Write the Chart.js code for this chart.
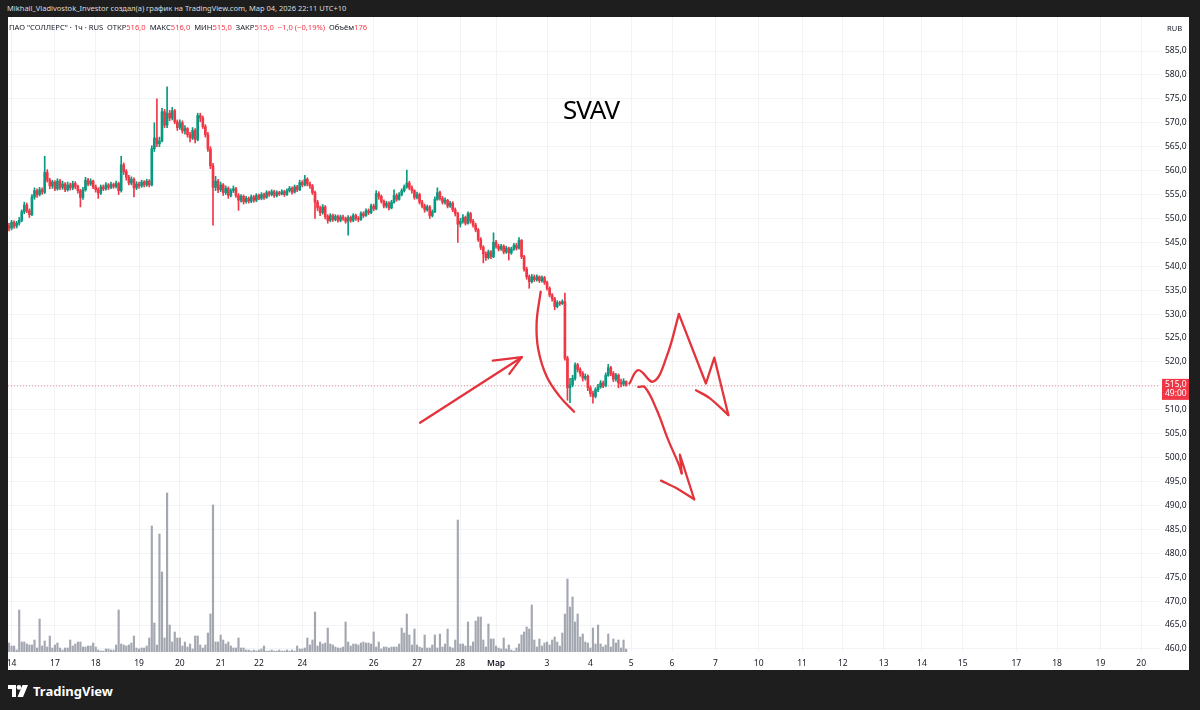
<!DOCTYPE html>
<html>
<head>
<meta charset="utf-8">
<title>SVAV</title>
<script src="https://cdn.jsdelivr.net/npm/chart.js@4.4.1/dist/chart.umd.min.js"></script>
<style>
  html, body { margin: 0; padding: 0; }
  body { width: 1200px; height: 710px; background: #1e1e1e; position: relative; overflow: hidden;
         font-family: "Noto Sans", "DejaVu Sans", sans-serif; }
  #top { position: absolute; left: 7px; top: 3px; font-size: 7.5px; color: #dcdcdc; white-space: nowrap; }
  #pane { position: absolute; left: 8px; top: 17px; width: 1181px; height: 653px; background: #fff; }
  #chart { position: absolute; left: 0; top: 0; }
  #legend { position: absolute; left: 1px; top: 5px; font-size: 7.6px; color: #131722; white-space: pre; }
  #legend .v { color: #f23645; }
  #sym { position: absolute; left: 555px; top: 79px; font-size: 26px; line-height: 26px; letter-spacing: -1px; color: #000; }
  #rub { position: absolute; left: 1159px; top: 6px; font-size: 7.5px; color: #131722; }
  #logo { position: absolute; left: 8px; top: 682px; display: flex; align-items: center; gap: 5px;
          color: #fff; font-weight: 700; font-size: 13px; }
</style>
</head>
<body>
<div id="top">Mikhail_Vladivostok_Investor создал(а) график на TradingView.com, Мар 04, 2026 22:11 UTC+10</div>
<div id="pane">
  <canvas id="chart" width="1181" height="653"></canvas>
  <div id="legend">ПАО "СОЛЛЕРС" · 1ч · RUS  ОТКР<span class="v">516,0</span>  МАКС<span class="v">516,0</span>  МИН<span class="v">515,0</span>  ЗАКР<span class="v">515,0</span>  <span class="v">−1,0 (−0,19%)</span>  Объём<span class="v">176</span></div>
  <div id="sym">SVAV</div>
  <div id="rub">RUB</div>
</div>
<div id="logo">
  <svg width="20" height="12" viewBox="0 0 20 12"><path fill="#fff" d="M0 0h8v12H4V4H0z"/><circle fill="#fff" cx="11" cy="2.4" r="2.3"/><path fill="#fff" d="M14.5 0h5.5l-5 12H9.5z"/></svg>
  <span>TradingView</span>
</div>
<script>
// ---------- DATA (1h candles, SVAV) ----------
const firstOpen = 548.5;

const closes = [
  548.0, 549.2, 548.4, 549.0, 549.6, 551.4, 552.8, 551.6, 550.8, 554.5,
  555.8, 555.0, 556.0, 555.5, 559.6, 558.0, 556.8, 557.6, 556.2, 557.8,
  556.5, 557.2, 556.0, 557.0, 556.4, 557.3, 556.7, 555.8, 554.4, 556.0,
  558.0, 557.2, 557.8, 556.6, 556.0, 555.3, 556.6, 556.2, 557.0, 556.5,
  557.1, 556.7, 557.3, 555.8, 561.2, 559.8, 558.6, 557.4, 558.2, 556.4,
  557.2, 556.8, 557.6, 557.0, 557.8, 557.0, 564.6, 566.8, 565.6, 566.2,
  572.3, 569.5, 572.0, 571.0, 572.5, 570.2, 569.0, 570.0, 568.3, 568.8,
  567.5, 566.8, 568.4, 566.5, 571.5, 571.0, 569.2, 567.5, 564.5, 561.0,
  556.5, 557.8, 556.0, 557.0, 555.4, 556.3, 554.8, 555.8, 556.2, 554.8,
  553.8, 554.6, 553.5, 554.2, 553.6, 554.5, 553.8, 554.8, 554.2, 555.0,
  554.4, 555.4, 555.0, 555.6, 554.8, 555.4, 555.1, 555.6, 555.0, 555.8,
  556.3, 555.5, 556.6, 556.0, 557.5, 557.0, 558.2, 557.2, 556.8, 555.4,
  553.4, 552.2, 551.2, 552.4, 550.4, 549.6, 550.6, 549.8, 550.4, 549.6,
  550.3, 550.0, 549.4, 550.2, 549.6, 550.6, 550.0, 549.8, 551.0, 550.6,
  551.6, 551.2, 552.6, 552.0, 555.2, 554.6, 553.6, 552.6, 553.2, 552.2,
  553.4, 554.8, 554.0, 555.0, 555.8, 556.6, 557.4, 556.4, 555.8, 554.4,
  555.0, 553.4, 552.6, 551.8, 552.4, 550.6, 551.4, 554.0, 555.4, 554.2,
  553.4, 553.8, 552.6, 553.2, 551.8, 551.0, 548.8, 549.4, 550.2, 549.0,
  551.0, 549.4, 548.6, 547.6, 545.6, 544.0, 542.6, 541.8, 543.0, 542.0,
  545.0, 544.2, 543.6, 544.2, 543.0, 543.8, 542.8, 543.6, 544.4, 543.8,
  545.4, 542.0, 539.4, 537.8, 536.8, 537.8, 537.2, 537.8, 537.0, 537.6,
  536.6, 535.4, 534.0, 533.2, 531.6, 532.4, 532.2, 532.6, 520.8, 514.6,
  515.2, 516.6, 519.4, 518.4, 517.6, 516.6, 517.0, 514.6, 513.4, 512.8,
  514.2, 514.8, 515.6, 515.0, 517.2, 518.8, 517.6, 516.4, 517.2, 515.6,
  515.4, 516.0, 515.0
];

const highs = [
  549.0, 549.6, 549.5, 549.4, 550.2, 551.8, 553.4, 553.2, 552.0, 555.0,
  556.4, 556.2, 556.5, 556.4, 563.0, 560.2, 558.4, 558.0, 557.9, 558.3,
  558.2, 557.8, 557.5, 557.6, 557.4, 557.8, 557.7, 557.0, 556.1, 556.5,
  558.6, 558.4, 558.3, 558.0, 557.0, 556.4, 557.0, 557.0, 557.5, 557.3,
  557.6, 557.4, 557.8, 557.6, 563.0, 561.6, 560.2, 559.0, 558.7, 558.5,
  557.7, 557.6, 558.0, 557.9, 558.2, 558.1, 565.2, 570.0, 575.0, 567.0,
  573.0, 572.8, 577.5, 572.6, 573.2, 572.8, 570.6, 570.6, 570.4, 569.4,
  569.0, 568.0, 569.0, 568.8, 572.0, 572.0, 571.4, 569.6, 568.0, 565.0,
  561.5, 558.8, 558.2, 557.6, 557.3, 556.8, 556.6, 556.2, 556.8, 556.5,
  555.2, 555.0, 554.9, 554.6, 554.5, 554.9, 554.8, 555.2, 555.1, 555.4,
  555.3, 555.8, 555.7, 556.0, 555.9, 555.8, 555.7, 556.0, 555.9, 556.2,
  556.7, 556.6, 557.0, 556.9, 558.0, 557.9, 559.0, 558.5, 557.6, 557.1,
  555.7, 553.8, 552.6, 552.9, 552.7, 550.8, 551.0, 550.9, 550.8, 550.7,
  550.7, 550.7, 550.3, 550.6, 550.5, 551.0, 550.9, 550.4, 551.4, 551.4,
  552.0, 552.0, 553.0, 553.0, 555.8, 555.6, 554.9, 553.9, 553.6, 553.5,
  553.8, 556.0, 555.2, 555.4, 556.2, 557.0, 560.1, 557.8, 556.8, 556.0,
  555.5, 555.3, 553.8, 553.0, 552.8, 552.7, 551.8, 554.5, 556.4, 555.7,
  554.6, 554.3, 554.0, 553.6, 553.5, 552.2, 551.3, 550.0, 550.8, 550.5,
  551.4, 551.3, 549.8, 549.0, 547.9, 546.0, 544.3, 543.0, 543.4, 543.3,
  547.0, 545.4, 544.6, 544.6, 544.5, 544.2, 544.0, 544.0, 544.8, 544.8,
  546.0, 545.6, 542.3, 539.8, 538.2, 538.3, 538.2, 538.2, 538.0, 538.0,
  537.9, 536.9, 535.7, 534.3, 533.5, 532.8, 532.7, 533.0, 534.4, 521.2,
  516.6, 517.2, 519.8, 519.7, 518.8, 518.0, 517.5, 517.3, 515.0, 513.9,
  514.6, 515.3, 516.1, 516.0, 517.7, 519.5, 519.1, 518.0, 517.6, 517.5,
  516.4, 516.5, 516.0
];

const lows = [
  547.4, 547.6, 547.9, 548.0, 548.6, 549.3, 551.0, 551.2, 550.2, 550.6,
  554.0, 554.4, 554.7, 555.0, 555.2, 557.6, 556.2, 556.3, 555.8, 555.9,
  556.0, 556.1, 555.6, 555.7, 555.9, 556.0, 556.2, 555.3, 552.4, 554.0,
  555.7, 556.8, 556.9, 556.2, 555.5, 554.2, 555.0, 555.8, 555.9, 556.0,
  556.2, 556.3, 556.4, 555.0, 555.5, 559.2, 558.0, 557.0, 557.0, 554.5,
  556.0, 556.3, 556.5, 556.6, 556.7, 556.6, 556.8, 564.0, 565.0, 565.0,
  566.0, 569.0, 569.0, 570.4, 570.6, 569.8, 568.4, 568.6, 567.8, 567.6,
  567.0, 566.0, 566.5, 565.8, 566.2, 570.2, 568.8, 567.0, 564.0, 560.4,
  548.6, 555.8, 555.4, 555.6, 554.8, 555.0, 554.2, 554.5, 555.4, 554.4,
  551.7, 553.4, 553.0, 553.2, 553.2, 553.3, 553.4, 553.5, 553.9, 553.9,
  554.0, 554.2, 554.6, 554.7, 554.4, 554.5, 554.8, 554.9, 554.6, 554.8,
  555.5, 555.1, 555.3, 555.6, 555.8, 556.6, 556.8, 556.8, 556.3, 555.0,
  550.0, 551.6, 550.6, 550.9, 549.9, 549.0, 549.3, 549.4, 549.5, 549.2,
  549.3, 549.6, 549.0, 546.5, 549.2, 549.3, 549.6, 549.3, 549.6, 550.2,
  550.4, 550.8, 551.0, 551.6, 551.8, 554.0, 553.2, 552.2, 552.2, 551.8,
  552.0, 553.2, 553.6, 553.8, 554.7, 555.5, 556.3, 556.0, 555.3, 554.0,
  554.1, 553.0, 552.2, 551.3, 551.5, 550.0, 550.3, 551.2, 553.8, 553.8,
  553.0, 553.0, 552.2, 552.3, 551.4, 550.5, 545.0, 548.2, 549.0, 548.6,
  548.8, 549.0, 548.2, 547.2, 545.2, 543.5, 540.7, 541.2, 541.5, 541.6,
  541.8, 543.8, 543.2, 543.3, 542.6, 542.7, 541.3, 542.5, 543.3, 543.4,
  543.6, 541.6, 539.0, 537.3, 535.4, 536.5, 536.8, 536.9, 536.6, 536.7,
  536.2, 535.0, 533.6, 532.7, 530.9, 531.3, 531.8, 532.0, 520.4, 512.0,
  511.5, 514.8, 516.2, 517.9, 517.0, 516.0, 516.2, 514.0, 512.8, 511.4,
  512.5, 513.8, 514.5, 514.6, 514.8, 517.0, 517.1, 515.9, 516.0, 514.6,
  514.8, 515.0, 515.0
];

const volumes = [
  540, 360, 360, 120,
  2520, 600, 600, 480, 420, 420, 720, 240, 1980,
  360, 660, 300, 960, 240, 420, 540, 240, 120, 240,
  240, 720, 360, 480, 600, 600, 300, 300, 360, 360,
  540, 300, 120, 60, 60, 180, 180, 120, 120, 420,
  2520, 480, 420, 360, 420, 540, 960, 240, 180, 240,
  240, 360, 840, 7560, 1740, 420, 7080, 4800, 840, 9540,
  1620, 600, 1200, 840, 840, 360, 600, 300, 480, 180,
  960, 960, 420, 240, 420, 1140, 2280, 8820, 600, 600,
  1020, 720, 480, 600, 360, 240, 240, 840, 240, 240,
  120, 120, 60, 120, 60, 120, 180, 360, 60,
  60, 120, 60, 60, 120, 60, 60, 120, 60, 120, 60,
  360, 180, 180, 240, 840, 420, 720, 2400, 360, 600, 480, 540, 1440,
  480, 420, 300, 240, 240, 300, 1800, 600, 360,
  480, 480, 420, 540, 600, 540, 540, 480, 1200, 300,
  600, 180, 300, 300, 240, 300, 300, 300, 480, 1440,
  1140, 2280, 1020, 420, 1380, 420, 300, 240, 1020, 240,
  240, 420, 1020, 240, 1080, 300, 480, 1380, 300,
  240, 720, 7920, 480, 480, 360, 1800, 360, 600, 1860,
  2100, 2100, 720, 300, 1680, 780, 780, 360, 240, 180,
  840, 180, 420, 120, 60, 240, 480, 1020, 1200, 1500,
  1380, 2820, 720, 300, 780, 360, 540, 600, 420, 720,
  900, 600, 360, 1140, 2280, 4380, 2700, 3300, 1800, 2280,
  900, 1080, 600, 540, 240, 1440, 480, 1620, 480, 300,
  420, 1080, 300, 780, 540, 720, 240, 720, 176
];

// day labels on the time axis (candle slot where each label sits)
const dayTickIdx    = [1, 18, 34, 51, 67, 83, 98, 115, 143, 160, 177, 191, 211, 228,
                       244, 260, 277, 294, 311, 327, 343, 358, 374, 395, 411, 428, 444];
const dayTickLabels = ['14', '17', '18', '19', '20', '21', '22', '24', '26', '27', '28', 'Мар', '3', '4',
                       '5', '6', '7', '10', '11', '12', '13', '14', '15', '17', '18', '19', '20'];

const priceTicks = [460, 465, 470, 475, 480, 485, 490, 495, 500, 505, 510, 515, 520, 525,
                    530, 535, 540, 545, 550, 555, 560, 565, 570, 575, 580, 585];

const lastClose = 515.0;
const barCountdown = '49:00';

// hand-drawn marks, [slot, price]
const arrowUpLine  = [[161.2, 507.3], [201.1, 521.0]];
const arrowUpHead  = [[189.7, 520.3], [201.1, 521.0], [196.2, 517.5]];
const bendLine     = [[208.5, 534.7], [206.9, 528.1], [207.6, 522.5], [210.9, 516.9], [216.1, 512.7], [221.6, 509.6]];
const zigBump      = [[243.3, 515.5], [246.8, 518.3], [252.7, 515.9], [257.9, 521.1], [262.7, 530.0]];
const zigDown      = [[262.7, 530.0], [273.3, 515.5], [276.6, 520.9], [282.1, 508.9]];
const zigHead      = [[269.4, 514.1], [274.9, 512.4], [282.1, 508.9]];
const dropLine     = [[246.8, 514.8], [249.4, 514.7], [254.0, 510.0], [258.5, 503.7], [262.5, 498.8], [263.8, 496.7]];
const dropTail     = [[263.8, 496.7], [263.1, 500.6], [268.7, 491.3]];
const dropHead     = [[255.7, 495.2], [261.8, 493.6], [268.7, 491.3]];

// ---------- CONFIG ----------
const UP = '#089981';
const DOWN = '#f23645';
const INK = '#e3343c';
const X_MIN = -0.392;
const X_MAX = 451.37;

const opens = closes.map((c, i) => (i === 0 ? firstOpen : closes[i - 1]));
const candleColors = closes.map((c, i) => (c >= opens[i] ? UP : DOWN));

function pts(arr) {
  return arr.map(([x, y]) => ({ x, y }));
}

function ink(arr, tension) {
  return {
    type: 'line',
    data: pts(arr),
    borderColor: INK,
    borderWidth: 2.3,
    tension: tension,
    pointRadius: 0,
    fill: false,
    borderCapStyle: 'round',
    borderJoinStyle: 'round',
    yAxisID: 'y',
    order: 0
  };
}

// red tag on the price scale
const lastPriceTag = {
  id: 'lastPriceTag',
  afterDraw(chart) {
    const { ctx, scales: { y } } = chart;
    const py = y.getPixelForValue(lastClose);
    ctx.save();
    ctx.fillStyle = DOWN;
    ctx.fillRect(y.left + 2, py - 7, y.right - y.left - 2, 21);
    ctx.fillStyle = '#fff';
    ctx.font = '8.5px "Noto Sans"';
    ctx.textBaseline = 'middle';
    ctx.fillText(lastClose.toFixed(1).replace('.', ','), y.left + 5, py - 1);
    ctx.fillText(barCountdown, y.left + 5, py + 8);
    ctx.restore();
  }
};

const tickFont = { family: '"Noto Sans"', size: 8.5 };

new Chart(document.getElementById('chart'), {
  type: 'bar',
  data: {
    datasets: [
      ink(arrowUpLine, 0), ink(arrowUpHead, 0), ink(bendLine, 0.4),
      ink(zigBump, 0.4), ink(zigDown, 0), ink(zigHead, 0.3),
      ink(dropLine, 0.4), ink(dropTail, 0), ink(dropHead, 0.3),
      {
        type: 'line',
        data: [{ x: X_MIN, y: lastClose }, { x: X_MAX, y: lastClose }],
        borderColor: 'rgba(242,54,69,0.55)',
        borderWidth: 1,
        borderDash: [1, 2],
        pointRadius: 0,
        yAxisID: 'y',
        order: 4
      },
      {
        data: closes.map((c, i) => ({ x: i, y: [opens[i], c] })),
        backgroundColor: candleColors,
        barThickness: 2,
        minBarLength: 1,
        grouped: false,
        yAxisID: 'y',
        order: 2
      },
      {
        data: closes.map((c, i) => ({ x: i, y: [lows[i], highs[i]] })),
        backgroundColor: candleColors,
        barThickness: 1,
        grouped: false,
        yAxisID: 'y',
        order: 3
      },
      {
        data: volumes.map((v, i) => ({ x: i, y: v })),
        backgroundColor: '#a3a7b0',
        barThickness: 1.5,
        grouped: false,
        yAxisID: 'yv',
        order: 6
      }
    ]
  },
  options: {
    responsive: false,
    animation: false,
    layout: { padding: 0 },
    plugins: { legend: { display: false }, tooltip: { enabled: false } },
    scales: {
      x: {
        type: 'linear',
        min: X_MIN,
        max: X_MAX,
        offset: false,
        grid: { color: '#f2f3f7', drawTicks: false, offset: false },
        border: { display: false },
        ticks: {
          autoSkip: false,
          maxRotation: 0,
          padding: 6,
          color: '#131722',
          font: (c) => (c.tick && c.tick.label === 'Мар' ? { ...tickFont, weight: '600' } : tickFont),
          callback: (v, idx) => dayTickLabels[idx]
        },
        afterBuildTicks: (a) => { a.ticks = dayTickIdx.map((v) => ({ value: v })); },
        afterFit: (a) => { a.height = 18; a.paddingLeft = 0; a.paddingRight = 0; }
      },
      y: {
        position: 'right',
        min: 459.37,
        max: 592.11,
        grid: { color: '#f2f3f7', drawTicks: false },
        border: { display: false },
        ticks: {
          padding: 5,
          color: '#131722',
          font: tickFont,
          callback: (v) => v.toFixed(1).replace('.', ',')
        },
        afterBuildTicks: (a) => { a.ticks = priceTicks.map((v) => ({ value: v })); },
        afterFit: (a) => { a.width = 29; a.paddingTop = 0; a.paddingBottom = 0; }
      },
      yv: { display: false, min: 0, max: 38100 }
    }
  },
  plugins: [lastPriceTag]
});
</script>
</body>
</html>
